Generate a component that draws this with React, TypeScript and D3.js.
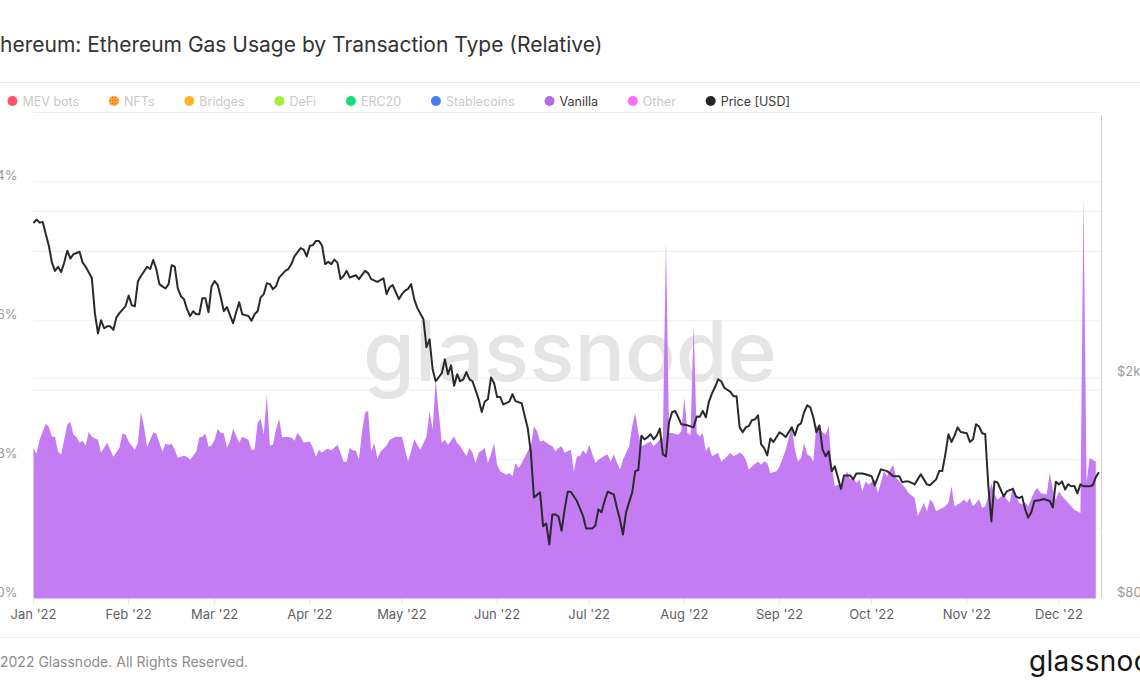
import React, { useMemo } from "react";
import * as d3 from "d3";

// ---------------- DATA ----------------
const TITLE = "Ethereum: Ethereum Gas Usage by Transaction Type (Relative)";
const FOOTER = "© 2022 Glassnode. All Rights Reserved.";
const START = new Date(2022, 0, 1);

const legendNames = ["MEV bots", "NFTs", "Bridges", "DeFi", "ERC20", "Stablecoins", "Vanilla", "Other", "Price [USD]"];
const legendColors = ["#ff5468", "url(#nftPattern)", "#ffb526", "#a3ef3d", "#12dc79", "#4a7cf6", "#b46be6", "#ff6ef6", "#262626"];
const legendActive = [false, false, false, false, false, false, true, false, true];

const pctGridTicks = [4, 8, 12, 16, 20, 24, 28];
const pctLabelTicks = [0, 8, 16, 24];
const priceGridTicks = [2000, 4000];
const priceLabelTicks = [800, 2000];

// Vanilla share of gas, % — [day of 2022 (0 = Jan 1), value]
const vanilla: [number, number][] = [
  [0, 8.69], [1, 8.34], [2, 9.15], [4, 10.07], [5, 9.9], [6, 9.32], [7, 9.32], [8, 8.46], [9, 8.29], [11, 10.01], [12, 10.19], [13, 9.44], [14, 9.32], [15, 8.98], [16, 9.09], [17, 8.81], [18, 9.61], [19, 9.32], [21, 9.15], [22, 8.4], [23, 8.69], [24, 8.98], [26, 8.17], [28, 8.69], [29, 9.5], [30, 9.44], [31, 9.04], [33, 8.57], [34, 8.98], [35, 10.76], [36, 9.9], [37, 8.75], [38, 9.15], [39, 9.55], [40, 9.5], [41, 8.98], [42, 8.46], [43, 8.92], [44, 8.86], [45, 8.92], [46, 8.57], [47, 8.11], [49, 8.23], [50, 8.17], [51, 8.0], [53, 8.46], [54, 9.27], [55, 9.32], [56, 9.5], [57, 8.75], [58, 8.81], [59, 9.15], [60, 9.78], [61, 9.55], [62, 9.5], [63, 8.69], [64, 9.04], [65, 9.78], [66, 9.38], [67, 8.98], [68, 9.32], [70, 9.15], [71, 8.57], [72, 8.57], [73, 10.13], [74, 10.36], [75, 9.44], [76, 11.74], [77, 8.81], [78, 8.86], [79, 9.73], [80, 10.36], [81, 9.27], [82, 9.32], [84, 9.27], [85, 9.09], [86, 9.55], [87, 9.32], [88, 8.98], [90, 9.04], [91, 8.69], [92, 8.17], [93, 8.57], [94, 8.4], [95, 8.57], [96, 8.63], [97, 8.52], [99, 8.86], [100, 8.4], [101, 7.88], [102, 7.88], [103, 8.69], [104, 8.52], [105, 8.52], [106, 8.0], [107, 9.61], [108, 10.7], [109, 10.82], [110, 8.46], [111, 8.98], [112, 8.06], [113, 8.46], [115, 8.81], [116, 9.15],
  [118, 9.32], [120, 9.32], [122, 7.9], [123, 8.48], [124, 9.19], [125, 8.86], [126, 8.57], [128, 9.34], [129, 10.78], [130, 9.73], [131, 12.6], [132, 10.69], [133, 8.96], [134, 9.15], [135, 8.86], [137, 9.34], [138, 8.96], [139, 8.77], [141, 8.19], [142, 8.67], [143, 8.39], [144, 7.81], [145, 8.39], [147, 8.67], [148, 7.81], [149, 8.29], [150, 8.96], [151, 7.71], [152, 7.33], [154, 7.14], [155, 7.23], [156, 7.04], [157, 7.81], [158, 7.52], [159, 7.81], [161, 8.48], [162, 8.77], [163, 9.92], [164, 9.63], [165, 9.05], [166, 9.11], [168, 8.86], [169, 8.77], [170, 8.48], [171, 8.67], [172, 8.77], [173, 8.39], [175, 8.57], [176, 7.33], [177, 8.19], [178, 8.19], [179, 8.54], [180, 8.29], [181, 8.86], [183, 7.81], [184, 8.0], [186, 8.23], [187, 8.29], [188, 7.9], [189, 8.29], [191, 7.42], [192, 8.0], [194, 8.77], [195, 9.92], [196, 10.69], [197, 9.54], [198, 8.77], [199, 8.86], [200, 8.96], [201, 9.05], [202, 8.77], [204, 9.15], [205, 9.25], [206, 20.56], [207, 9.55], [208, 9.54], [210, 9.44], [211, 9.63], [212, 11.55], [213, 9.54], [214, 9.44], [215, 15.71], [216, 9.54], [217, 9.34], [218, 9.54], [219, 8.48], [220, 8.77], [221, 8.19], [223, 8.39], [224, 7.9], [226, 8.19], [227, 8.39], [228, 8.19], [230, 8.39], [231, 8.29],
  [232, 8.0], [233, 7.42], [234, 7.61], [236, 7.9], [237, 7.71], [238, 7.9], [239, 7.81], [240, 7.23], [242, 7.33], [243, 7.61], [245, 8.57], [246, 9.25], [247, 9.82], [248, 8.57], [249, 7.9], [250, 8.1], [251, 8.96], [252, 8.29], [253, 8.19], [254, 7.9], [255, 10.01], [256, 9.73], [258, 9.44], [259, 9.92], [260, 7.61], [261, 6.46], [262, 6.56], [263, 6.46], [265, 7.33], [266, 6.85], [267, 6.95], [268, 6.66], [269, 6.85], [270, 6.18], [271, 6.75], [272, 6.56], [274, 6.85], [275, 6.08], [276, 6.66], [277, 7.33], [278, 7.04], [279, 7.42], [280, 7.71], [281, 6.95], [282, 6.75], [283, 6.56], [284, 6.37], [285, 6.08], [287, 5.79], [288, 4.74], [289, 5.12], [290, 5.51], [291, 5.02], [292, 5.7], [293, 5.51], [294, 5.02], [296, 5.22], [297, 5.31], [298, 5.51], [299, 6.46], [300, 5.31], [302, 5.51], [303, 5.7], [304, 5.51], [305, 5.79], [306, 5.31], [308, 5.7], [309, 5.22], [310, 5.31], [311, 5.89], [312, 6.66], [313, 5.99], [314, 5.7], [316, 5.99], [317, 5.7], [318, 5.51], [319, 6.46], [321, 5.51], [322, 5.41], [323, 5.51], [324, 5.31], [326, 6.18], [327, 6.37], [328, 6.08], [330, 5.99], [331, 7.23], [332, 6.27], [333, 5.7], [334, 6.18], [335, 5.89], [336, 5.7], [338, 5.31], [339, 5.12], [341, 4.93], [342, 23.1], [343, 6.7], [344, 8.1], [345, 8.0], [346, 7.9],
];

// ETH price, USD — [day of 2022, value]
const price: [number, number][] = [
  [0, 3811], [1, 3870], [2, 3820], [3, 3830], [4, 3642], [5, 3470], [6, 3235], [7, 3126], [8, 3180], [9, 3110], [10, 3235], [11, 3400], [12, 3290], [13, 3350], [15, 3385], [16, 3235], [17, 3180], [19, 3035], [20, 2620], [21, 2410], [22, 2546], [23, 2462], [24, 2482], [25, 2482], [26, 2445], [27, 2575], [28, 2621], [30, 2700], [31, 2820], [32, 2711], [33, 2697], [34, 2990], [35, 3060], [37, 3180], [38, 3150], [39, 3270], [40, 3150], [41, 2958], [42, 2930], [43, 2905], [44, 2958], [45, 3201], [46, 3180], [47, 2905], [48, 2813], [49, 2779], [50, 2665], [51, 2590], [52, 2643], [53, 2610], [54, 2610], [55, 2790], [56, 2790], [57, 2632], [58, 2933], [59, 2996], [60, 2946], [61, 2800], [62, 2643], [63, 2689], [64, 2600], [65, 2514], [66, 2632], [67, 2743], [68, 2610], [69, 2600], [70, 2590], [71, 2540], [72, 2610], [73, 2643], [74, 2800], [75, 2837], [76, 2970], [77, 2958], [78, 2897], [79, 2933], [80, 3040], [82, 3126], [83, 3149], [84, 3215], [85, 3320], [87, 3436], [88, 3415], [89, 3320], [90, 3470], [91, 3478], [92, 3540], [93, 3540], [94, 3470], [95, 3215], [96, 3245], [97, 3215], [98, 3275], [99, 3235], [100, 3020], [101, 3060], [102, 3126], [103, 3040], [105, 3070], [106, 3020], [108, 3126], [109, 3096], [110, 3020], [112, 2985], [114, 3030], [115, 2837], [116, 2920], [117, 2946], [118, 2860], [119, 2779], [120, 2837], [121, 2880], [122, 2900], [123, 2958], [124, 2779], [125, 2680], [127, 2556], [128, 2275], [129, 2351],
  [130, 2076], [131, 1975], [133, 2042], [134, 2163], [135, 2033], [136, 2110], [137, 1938], [138, 2033], [139, 1975], [140, 1991], [141, 2052], [142, 1991], [143, 1975], [145, 1832], [146, 1738], [147, 1815], [148, 1832], [149, 2005], [150, 1963], [151, 1850], [152, 1850], [153, 1794], [155, 1815], [156, 1871], [157, 1818], [159, 1802], [161, 1622], [162, 1469], [163, 1218], [165, 1244], [166, 1080], [167, 1093], [168, 1002], [169, 1135], [170, 1135], [171, 1125], [172, 1060], [173, 1159], [174, 1247], [175, 1247], [177, 1200], [179, 1128], [180, 1070], [182, 1070], [183, 1084], [184, 1159], [185, 1145], [186, 1200], [187, 1247], [189, 1234], [190, 1168], [191, 1112], [192, 1044], [193, 1145], [195, 1244], [196, 1359], [197, 1365], [198, 1575], [199, 1551], [200, 1564], [201, 1584], [202, 1551], [203, 1575], [204, 1622], [205, 1457], [206, 1445], [207, 1665], [208, 1736], [209, 1745], [210, 1700], [211, 1651], [213, 1644], [215, 1630], [216, 1706], [217, 1703], [218, 1745], [219, 1700], [220, 1815], [221, 1878], [222, 1930], [223, 1991], [224, 1975], [225, 1922], [227, 1890], [228, 1855], [229, 1855], [230, 1630], [231, 1597], [232, 1630], [233, 1640],
  [234, 1679], [235, 1686], [236, 1714], [237, 1519], [238, 1496], [239, 1451], [240, 1557], [241, 1534], [243, 1597], [244, 1584], [245, 1566], [247, 1630], [248, 1577], [249, 1644], [250, 1658], [251, 1736], [252, 1787], [253, 1772], [254, 1700], [255, 1597], [256, 1644], [257, 1488], [258, 1445], [259, 1476], [260, 1359], [261, 1386], [262, 1324], [263, 1262], [264, 1335], [266, 1335], [267, 1313], [268, 1346], [270, 1346], [271, 1341], [273, 1330], [274, 1281], [275, 1324], [276, 1369], [278, 1359], [279, 1346], [280, 1330], [282, 1330], [283, 1297], [284, 1302], [285, 1302], [287, 1286], [288, 1313], [289, 1341], [290, 1313], [291, 1286], [292, 1281], [294, 1313], [295, 1359], [296, 1359], [297, 1457], [298, 1584], [299, 1534], [300, 1575], [301, 1630], [302, 1599], [304, 1591], [305, 1534], [306, 1551], [307, 1651], [308, 1636], [309, 1591], [310, 1584], [311, 1278], [312, 1102], [313, 1302], [314, 1297], [315, 1259], [316, 1223], [317, 1249], [319, 1262], [320, 1223], [321, 1215], [322, 1223], [323, 1159], [324, 1120], [325, 1145], [326, 1200], [328, 1205], [329, 1210], [331, 1200], [332, 1168], [333, 1300], [334, 1286], [335, 1302], [336, 1259], [337, 1286], [338, 1276], [339, 1278], [340, 1239], [341, 1286], [342, 1276], [344, 1276], [345, 1281], [346, 1324], [347, 1353],
];

// ---------------- LAYOUT ----------------
const W = 1140;
const H = 694;
const PLOT = { left: 33.5, right: 1101, top: 112.5, bottom: 598.5 };
const X_END_DAYS = 347.7;
const FONT = "Inter, 'Noto Sans', sans-serif";

let _ctx: CanvasRenderingContext2D | null = null;
function measure(text: string, font: string): number {
  if (!_ctx) _ctx = document.createElement("canvas").getContext("2d");
  if (!_ctx) return text.length * 7;
  _ctx.font = font;
  return _ctx.measureText(text).width;
}

const dayToDate = (d: number) => new Date(START.getTime() + d * 86400000);

export default function App() {
  const m = useMemo(() => {
    const x = d3.scaleTime().domain([START, dayToDate(X_END_DAYS)]).range([PLOT.left, PLOT.right]);
    const yPct = d3.scaleLinear().domain([0, 28]).range([PLOT.bottom, PLOT.top]);
    const yPrice = d3.scaleLog().domain([800, 6040]).range([PLOT.bottom, PLOT.top]);
    const area = d3
      .area<[number, number]>()
      .x((d) => x(d3.timeDay.offset(START, d[0])))
      .y0(yPct(0))
      .y1((d) => yPct(d[1]))
      .curve(d3.curveLinear);
    const line = d3
      .line<[number, number]>()
      .x((d) => x(d3.timeDay.offset(START, d[0])))
      .y((d) => yPrice(d[1]))
      .curve(d3.curveLinear);
    const months = d3.timeMonth.range(START, new Date(2022, 11, 31));
    return { x, yPct, yPrice, areaPath: area(vanilla) || "", linePath: line(price) || "", months };
  }, []);

  const fmtMonth = d3.timeFormat("%b '%y");
  const fmtPrice = (v: number) => (v >= 1000 ? `$${v / 1000}k` : `$${v}`);

  const titleFont = `400 21px ${FONT}`;
  const titleShift = measure(TITLE.slice(0, 2), titleFont);
  const footFont = `400 14px ${FONT}`;
  const footShift = measure(FOOTER.slice(0, 2), footFont);

  // legend positions from text widths
  const legendFont = `400 12.5px ${FONT}`;
  let cx = 12.5;
  const legend = legendNames.map((name, i) => {
    const item = { name, color: legendColors[i], active: legendActive[i], cx };
    cx = cx + 10 + measure(name, legendFont) + 34.8;
    return item;
  });

  return (
    <div>
      <style>{"body{margin:0;background:#fff}"}</style>
      <svg width={W} height={H} style={{ display: "block", fontFamily: FONT }}>
        <defs>
          <pattern id="nftPattern" width="3" height="3" patternUnits="userSpaceOnUse">
            <rect width="3" height="3" fill="#ffa22e" />
            <circle cx="1.5" cy="1.5" r="0.7" fill="#e06a12" />
          </pattern>
        </defs>
        <rect width={W} height={H} fill="#fff" />

        {/* title */}
        <text x={-titleShift} y={52} fill="#333" style={{ font: titleFont }}>
          {TITLE}
        </text>
        <line x1={0} x2={W} y1={82.5} y2={82.5} stroke="#e6e6e6" />

        {/* legend */}
        {legend.map((it) => (
          <g key={it.name}>
            <circle cx={it.cx} cy={101} r={5} fill={it.color} />
            <text x={it.cx + 10} y={101} dominantBaseline="central" style={{ font: legendFont }} fill={it.active ? "#3a3a3a" : "#c9c9c9"}>
              {it.name}
            </text>
          </g>
        ))}

        {/* gridlines */}
        {pctGridTicks.map((t) => (
          <line key={"gp" + t} x1={PLOT.left} x2={PLOT.right} y1={m.yPct(t)} y2={m.yPct(t)} stroke="#efefef" />
        ))}
        {priceGridTicks.map((t) => (
          <line key={"gr" + t} x1={PLOT.left} x2={PLOT.right} y1={m.yPrice(t)} y2={m.yPrice(t)} stroke="#efefef" />
        ))}

        {/* watermark */}
        <text x={570} y={381} textAnchor="middle" fontSize={84} fontWeight={500} fill="#e5e5e5">
          glassnode
        </text>

        {/* series */}
        <path d={m.areaPath} fill="#c47cf3" />
        <path d={m.linePath} fill="none" stroke="#2a2a2a" strokeWidth={2} strokeLinejoin="round" />

        {/* right border */}
        <line x1={PLOT.right + 0.5} x2={PLOT.right + 0.5} y1={115} y2={PLOT.bottom} stroke="#cfcfcf" />

        {/* left axis labels */}
        {pctLabelTicks.map((t) => (
          <text key={"lp" + t} x={17.5} y={m.yPct(t) - 7} textAnchor="end" dominantBaseline="central" fontSize={13} fill="#9a9a9a">
            {t}%
          </text>
        ))}

        {/* right axis labels */}
        {priceLabelTicks.map((t) => (
          <text key={"rp" + t} x={1117} y={m.yPrice(t) - 7} dominantBaseline="central" fontSize={13} fill="#9a9a9a">
            {fmtPrice(t)}
          </text>
        ))}

        {/* x axis */}
        {m.months.map((d) => (
          <g key={d.toISOString()}>
            <line x1={m.x(d)} x2={m.x(d)} y1={PLOT.bottom + 0.5} y2={PLOT.bottom + 6} stroke="#e2e2e2" />
            <text x={m.x(d)} y={614} textAnchor="middle" dominantBaseline="central" fontSize={13} fill="#5f5f5f">
              {fmtMonth(d)}
            </text>
          </g>
        ))}
        <line x1={0} x2={W} y1={637.5} y2={637.5} stroke="#ececec" />

        {/* footer */}
        <text x={-footShift} y={667} fill="#8c8c8c" style={{ font: footFont }}>
          {FOOTER}
        </text>
        <text x={1029} y={671} fontSize={28} fontWeight={400} letterSpacing={0.3} fill="#151515">
          glassnode
        </text>
      </svg>
    </div>
  );
}
